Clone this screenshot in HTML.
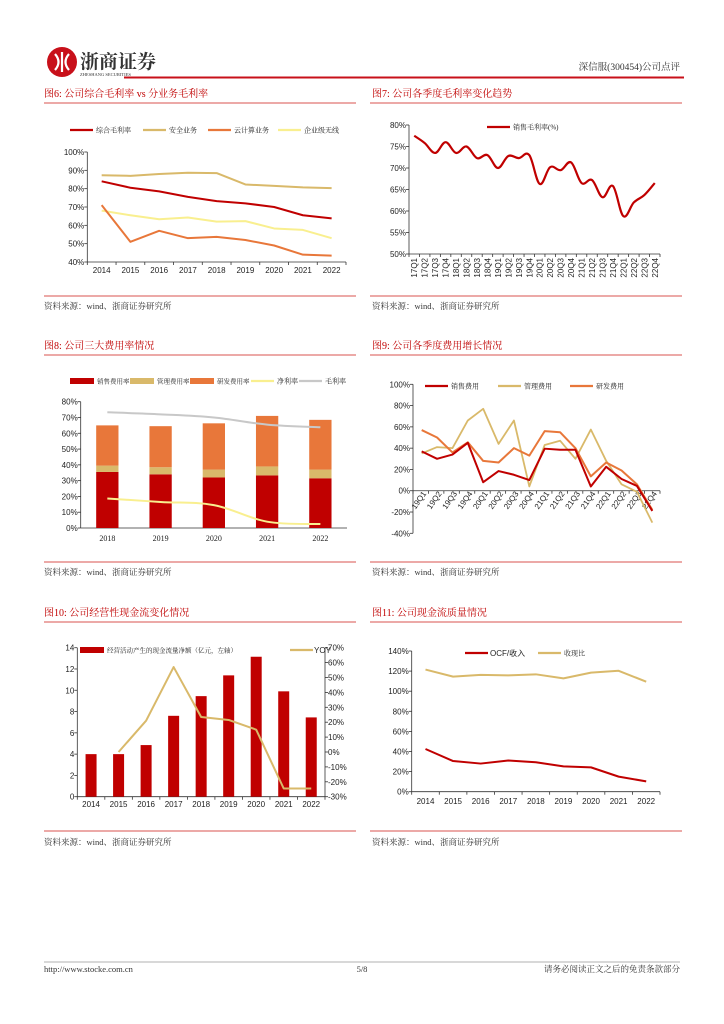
<!DOCTYPE html>
<html><head><meta charset="utf-8">
<style>
html,body{margin:0;padding:0;background:#fff;}
svg{display:block;}
.t{font-family:"Liberation Serif","Noto Serif CJK SC",serif;}
.s{font-family:"Liberation Sans","Noto Sans CJK SC",sans-serif;}
</style></head>
<body>
<svg id="pg" width="724" height="1024" viewBox="0 0 724 1024" xmlns="http://www.w3.org/2000/svg">
<g>
<circle cx="62" cy="62" r="15" fill="#c8101a"/>
<path d="M55 54 Q62 62 55 70 M69 54 Q62 62 69 70 M62 52 L62 72" stroke="#fff" stroke-width="2.2" fill="none"/>
<text x="80" y="68" font-size="19" font-weight="bold" fill="#333" class="t">浙商证券</text>
<text x="80" y="76" font-size="4.5" fill="#333" class="t">ZHESHANG SECURITIES</text>
<line x1="124" y1="77.5" x2="684" y2="77.5" stroke="#c8101a" stroke-width="2"/>
<text x="680" y="70" font-size="9.5" fill="#333" text-anchor="end" class="t">深信服(300454)公司点评</text>
</g>
<g id="frames"></g>
<g id="c1"></g>
<g id="c2"></g>
<g id="c3"></g>
<g id="c4"></g>
<g id="c5"></g>
<g id="c6"></g>
<g>
<line x1="44" y1="962" x2="680" y2="962" stroke="#999" stroke-width="0.8"/>
<text x="44" y="972" font-size="8.5" fill="#333" class="t">http://www.stocke.com.cn</text>
<text x="362" y="972" font-size="8.5" fill="#333" text-anchor="middle" class="t">5/8</text>
<text x="680" y="972" font-size="8.5" fill="#333" text-anchor="end" class="t">请务必阅读正文之后的免责条款部分</text>
</g>
</svg>
<script>
// ---- chart data ----
const years9 = ["2014","2015","2016","2017","2018","2019","2020","2021","2022"];
const c1Composite = [84,80.5,78.5,75.5,73.2,72,70,65.5,63.8];
const c1Security = [87.3,87,88,88.7,88.5,82.3,81.5,80.7,80.3];
const c1Cloud = [71,51,57,53,53.7,52,49,44,43.5];
const c1Wireless = [68,65.5,63.3,64.3,62,62.3,58.3,57.5,53];
const c1Ticks = [40,50,60,70,80,90,100];

const quarters24 = ["17Q1","17Q2","17Q3","17Q4","18Q1","18Q2","18Q3","18Q4","19Q1","19Q2","19Q3","19Q4","20Q1","20Q2","20Q3","20Q4","21Q1","21Q2","21Q3","21Q4","22Q1","22Q2","22Q3","22Q4"];
const c2Margin = [77.5,75.8,73.5,76,73.5,75,72.3,73,70,72.8,72.3,73,66.3,70.2,69.5,71.3,66.5,67.2,63.2,65.8,58.8,62,63.7,66.5];
const c2Ticks = [50,55,60,65,70,75,80];

const years5 = ["2018","2019","2020","2021","2022"];
const c3Sales = [35.5,34,32,33.3,31.5];
const c3Admin = [4,4.5,5,5.7,5.5];
const c3RD = [25.5,26,29.3,32,31.5];
const c3Net = [18.7,16.5,14.5,4,2.5];
const c3Gross = [73.3,72,70,65.5,63.8];
const c3Ticks = [0,10,20,30,40,50,60,70,80];

const quarters16 = ["19Q1","19Q2","19Q3","19Q4","20Q1","20Q2","20Q3","20Q4","21Q1","21Q2","21Q3","21Q4","22Q1","22Q2","22Q3","22Q4"];
const c4Sales = [37,30,34,45,8,18.5,15,10,39.5,38.5,38.5,4,22.5,11,4.5,-19];
const c4Admin = [35,41,40,66,77,44,66,4,43,47,30,57.5,28,6,-1,-30];
const c4RD = [57,50,36,45.5,28,26.5,40,33,56,55,40,13.5,26.5,19,6,-18];
const c4Ticks = [-40,-20,0,20,40,60,80,100];

const c5Ocf = [4,4,4.85,7.6,9.45,11.4,13.15,9.9,7.45];
const c5Yoy = [null,0,21,57,23.5,21.5,15,-24.5,-24.5];
const c5LeftTicks = [0,2,4,6,8,10,12,14];
const c5RightTicks = [-30,-20,-10,0,10,20,30,40,50,60,70];

const c6OcfRev = [42.5,30.5,28,31,29.3,25.2,24.2,15,10.3];
const c6CashRatio = [121.5,114.5,116.3,115.8,116.8,112.8,118.5,120.3,109.5];
const c6Ticks = [0,20,40,60,80,100,120,140];

const NS="http://www.w3.org/2000/svg";
function mk(p,tag,at){const e=document.createElementNS(NS,tag);for(const k in at)e.setAttribute(k,at[k]);p.appendChild(e);return e;}
function lin(d0,d1,r0,r1){return v=>r0+(v-d0)/(d1-d0)*(r1-r0);}
function band(x0,x1,n){const w=(x1-x0)/n;return i=>x0+w*(i+0.5);}
function txt(p,x,y,s,o){const e=mk(p,'text',Object.assign({x:x,y:y,'font-size':8,fill:'#222'},o||{}));if(!o||!o['class'])e.setAttribute('class','s');e.textContent=s;return e;}
function smoothPath(pts){let d='M'+pts[0][0]+' '+pts[0][1];for(let i=0;i<pts.length-1;i++){const p0=pts[i-1]||pts[i],p1=pts[i],p2=pts[i+1],p3=pts[i+2]||p2;const t=0.18;d+=' C'+(p1[0]+(p2[0]-p0[0])*t)+' '+(p1[1]+(p2[1]-p0[1])*t)+' '+(p2[0]-(p3[0]-p1[0])*t)+' '+(p2[1]-(p3[1]-p1[1])*t)+' '+p2[0]+' '+p2[1];}return d;}
function series(p,vals,xf,yf,color,w,name,smooth){const pts=[];vals.forEach((v,i)=>{if(v!==null)pts.push([xf(i),yf(v)]);});
const e=mk(p,'path',{d:smooth?smoothPath(pts):'M'+pts.map(q=>q.join(' ')).join(' L'),fill:'none',stroke:color,'stroke-width':w,'stroke-linejoin':'round'});

return e;}
function yAxis(p,x,ticks,yf,fmt,right,y0,y1){mk(p,'line',{x1:x,y1:y0,x2:x,y2:y1,stroke:'#333','stroke-width':0.8});
ticks.forEach(t=>{mk(p,'line',{x1:right?x:x-3,y1:yf(t),x2:right?x+3:x,y2:yf(t),stroke:'#333','stroke-width':0.8});
const l=txt(p,right?x+3:x-3,yf(t)+3,fmt(t),{'text-anchor':right?'start':'end'});

});}
function xAxis(p,y,x0,x1,n){mk(p,'line',{x1:x0,y1:y,x2:x1,y2:y,stroke:'#333','stroke-width':0.8});const w=(x1-x0)/n;for(let i=0;i<=n;i++)mk(p,'line',{x1:x0+w*i,y1:y,x2:x0+w*i,y2:y+3,stroke:'#333','stroke-width':0.8});}
function legLine(p,x,y,color,label,w){const l=mk(p,'line',{x1:x,y1:y,x2:x+23,y2:y,stroke:color,'stroke-width':w||2.2});


const t=txt(p,x+26,y+2.5,label,{'font-size':7,'class':'t','font-family':'"Liberation Serif","Noto Serif CJK SC",serif'});

}
function legRect(p,x,y,color,label){const r=mk(p,'rect',{x:x,y:y-3,width:24,height:6,fill:color});


const t=txt(p,x+27,y+2.5,label,{'font-size':6.5,'font-family':'"Liberation Serif","Noto Serif CJK SC",serif','class':'t'});

}
const pct=t=>t+'%';
const RED='#c00000',TAN='#d9b96a',ORG='#e8773a',YEL='#f9ef8f',GRY='#c8c8c8';

// ---- frames: titles, rules, sources ----
const F=document.getElementById('frames');
const titles=[[44,97,'图6:  公司综合毛利率 vs 分业务毛利率'],[372,97,'图7:  公司各季度毛利率变化趋势'],[44,349,'图8:  公司三大费用率情况'],[372,349,'图9:  公司各季度费用增长情况'],[44,616,'图10:  公司经营性现金流变化情况'],[372,616,'图11:  公司现金流质量情况']];
titles.forEach(t=>{const e=txt(F,t[0],t[1],t[2],{'font-size':10,fill:'#c00000','class':'t','font-family':'"Liberation Serif","Noto Serif CJK SC",serif'});

});
[[103],[355],[622]].forEach(r=>{mk(F,'line',{x1:44,y1:r[0],x2:356,y2:r[0],stroke:'#d9534f','stroke-width':0.9});mk(F,'line',{x1:370,y1:r[0],x2:682,y2:r[0],stroke:'#d9534f','stroke-width':0.9});});
[[296,309],[562,575],[831,845]].forEach(r=>{mk(F,'line',{x1:44,y1:r[0],x2:356,y2:r[0],stroke:'#d9534f','stroke-width':0.9});mk(F,'line',{x1:370,y1:r[0],x2:682,y2:r[0],stroke:'#d9534f','stroke-width':0.9});
[44,372].forEach(x=>{const e=txt(F,x,r[1],'资料来源：wind、浙商证券研究所',{'font-size':8.5,fill:'#333','class':'t','font-family':'"Liberation Serif","Noto Serif CJK SC",serif'});

});});

// ---- chart 1 ----
(function(){const g=document.getElementById('c1');const y=lin(40,100,262,152);const x=band(87.3,346,9);
yAxis(g,87.3,c1Ticks,y,pct,false,152,262);xAxis(g,262,87.3,346,9);
years9.forEach((c,i)=>{const l=txt(g,x(i),273,c,{'text-anchor':'middle'});});
series(g,c1Security,x,y,TAN,2,'line-security');series(g,c1Wireless,x,y,YEL,2,'line-wireless');series(g,c1Cloud,x,y,ORG,2,'line-cloud');series(g,c1Composite,x,y,RED,2,'line-composite');
legLine(g,70,130,RED,'综合毛利率');legLine(g,143,130,TAN,'安全业务');legLine(g,208,130,ORG,'云计算业务');legLine(g,278,130,YEL,'企业级无线');})();

// ---- chart 2 ----
(function(){const g=document.getElementById('c2');const y=lin(50,80,254,125);const x=band(409,660,24);
yAxis(g,409,c2Ticks,y,pct,false,125,254);xAxis(g,254,409,660,24);
quarters24.forEach((c,i)=>{const l=txt(g,0,0,c,{'text-anchor':'end',transform:'translate('+(x(i)+3)+',258) rotate(-90)'});});
series(g,c2Margin,x,y,RED,2.2,'line-quarterly-margin',true);
legLine(g,487,127,RED,'销售毛利率(%)');})();

// ---- chart 3 ----
(function(){const g=document.getElementById('c3');const y=lin(0,80,528,401.7);const x=band(80.7,347,5);const bw=22.3;
yAxis(g,80.7,c3Ticks,y,pct,false,401.7,528);mk(g,'line',{x1:80.7,y1:528,x2:347,y2:528,stroke:'#333','stroke-width':0.8});
years5.forEach((c,i)=>{let b=0;[[c3Sales,RED,'bar-sales'],[c3Admin,TAN,'bar-admin'],[c3RD,ORG,'bar-rd']].forEach(s=>{const v=s[0][i];const r=mk(g,'rect',{x:x(i)-bw/2,y:y(b+v),width:bw,height:y(b)-y(b+v),fill:s[1]});

b+=v;});
const l=txt(g,x(i),541,c,{'text-anchor':'middle','font-size':8,'class':'t','font-family':'"Liberation Serif",serif'});});
series(g,c3Gross,x,y,GRY,2,'line-gross-margin',true);series(g,c3Net,x,y,YEL,2,'line-net-margin',true);
legRect(g,70,381,RED,'销售费用率');legRect(g,130,381,TAN,'管理费用率');legRect(g,190,381,ORG,'研发费用率');legLine(g,251,381,YEL,'净利率');legLine(g,299,381,GRY,'毛利率');})();

// ---- chart 4 ----
(function(){const g=document.getElementById('c4');const y=lin(-40,100,533.3,384.3);const x=band(414,660,16);
yAxis(g,413,c4Ticks,y,pct,false,384.3,533.3);xAxis(g,y(0),413,660,16);
quarters16.forEach((c,i)=>{const l=txt(g,0,0,c,{'text-anchor':'end',transform:'translate('+(x(i)+5)+','+(y(0)+3)+') rotate(-55)'});});
series(g,c4Admin,x,y,TAN,1.8,'line-admin-growth');series(g,c4RD,x,y,ORG,2,'line-rd-growth');series(g,c4Sales,x,y,RED,2,'line-sales-growth');
legLine(g,425,386,RED,'销售费用');legLine(g,498,386,TAN,'管理费用');legLine(g,570,386,ORG,'研发费用');})();

// ---- chart 5 ----
(function(){const g=document.getElementById('c5');const yl=lin(0,14,796.7,647.7);const yr=lin(-30,70,796.7,647.7);const x=band(77.3,325,9);const bw=11;
yAxis(g,77.3,c5LeftTicks,yl,t=>String(t),false,647.7,796.7);yAxis(g,325,c5RightTicks,yr,pct,true,647.7,796.7);xAxis(g,796.7,77.3,325,9);
years9.forEach((c,i)=>{const r=mk(g,'rect',{x:x(i)-bw/2,y:yl(c5Ocf[i]),width:bw,height:yl(0)-yl(c5Ocf[i]),fill:RED});


const l=txt(g,x(i),807,c,{'text-anchor':'middle'});});
series(g,c5Yoy,x,yr,TAN,2,'line-yoy');
legRect(g,80,650,RED,'经营活动产生的现金流量净额（亿元，左轴）');legLine(g,290,650,TAN,'');txt(g,314,653,'YOY',{'font-size':8});})();

// ---- chart 6 ----
(function(){const g=document.getElementById('c6');const y=lin(0,140,791.7,651);const x=band(411.7,660,9);
yAxis(g,411.7,c6Ticks,y,pct,false,651,791.7);xAxis(g,791.7,411.7,660,9);
years9.forEach((c,i)=>{const l=txt(g,x(i),804,c,{'text-anchor':'middle'});});
series(g,c6CashRatio,x,y,TAN,2,'line-cash-collection-ratio');series(g,c6OcfRev,x,y,RED,2,'line-ocf-to-revenue');
legLine(g,465,653,RED,'');txt(g,490,656,'OCF/收入',{'font-size':8});legLine(g,538,653,TAN,'收现比');})();
</script>
</body></html>
